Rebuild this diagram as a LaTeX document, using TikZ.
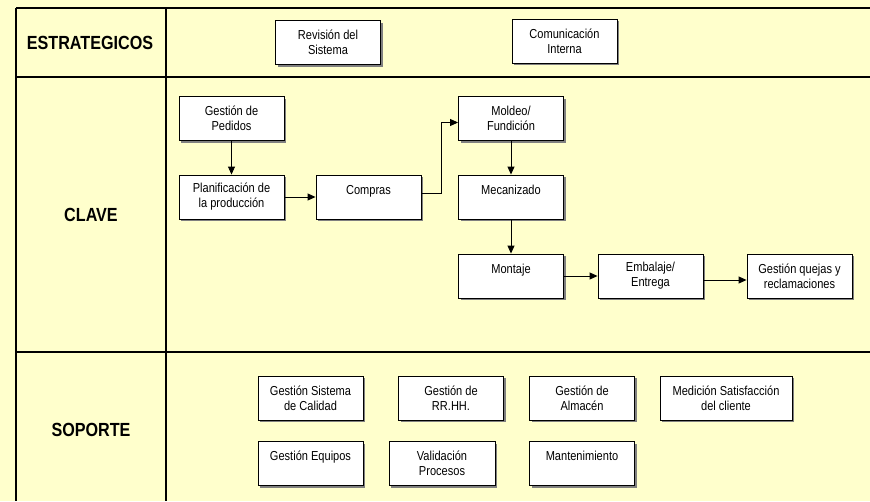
\documentclass[tikz,border=0pt]{standalone}
\usepackage{fontspec}
\setmainfont{Liberation Sans}[FakeStretch=0.85]
\definecolor{MapBack}{HTML}{FFFFCC}
\definecolor{MapBlack}{HTML}{000000}
\definecolor{MapWhite}{HTML}{FFFFFF}
\definecolor{MapShadow}{HTML}{808080}
\usepackage{tikz}
\usetikzlibrary{arrows.meta, positioning, shadows}
\tikzset{
    box/.style={
        draw=MapBlack,
        fill=MapWhite,
        line width=0.9pt,
        minimum width=#1,
        minimum height=44pt,
        inner sep=0pt,
        text=MapBlack,
        font=\fontsize{13}{15}\selectfont,
        align=center,
        drop shadow={shadow xshift=2pt, shadow yshift=-2pt, fill=MapShadow, opacity=1}
    },
    box/.default=105pt,
    rowlabel/.style={
        text=MapBlack,
        font=\fontsize{19}{21}\selectfont\bfseries,
        inner sep=0pt
    },
    grid/.style={
        line width=1.1pt,
        MapBlack
    },
    arrow/.style={
        -{Triangle[length=8pt,width=7pt]},
        line width=0.9pt,
        MapBlack
    }
}
\begin{document}
\begin{tikzpicture}[x=1pt, y=-1pt]
    \fill[MapBack] (0,0) rectangle (870,501);
    \useasboundingbox (0,0) rectangle (870,501);

    % table
    \draw[grid] (16,8) -- (870,8);
    \draw[grid] (16,77) -- (870,77);
    \draw[grid] (16,352) -- (870,352);
    \draw[grid] (16,8) -- (16,501);
    \draw[grid] (166,8) -- (166,501);

    \node[rowlabel] (estr) at (90,43) {ESTRATEGICOS};
    \node[rowlabel] (clave) at (91,215) {CLAVE};
    \node[rowlabel] (sop) at (91,430) {SOPORTE};

    % estrategicos
    \node[box] (rev) at (328,42.5) {Revisión del\\Sistema};
    \node[box] (com) at (564.5,41) {Comunicación\\Interna};

    % clave
    \node[box] (ped) at (231.5,118.5) {Gestión de\\Pedidos};
    \node[box] (pla) at (231.5,197) {Planificación de\\la producción};
    \node[box] (comp) at (368.5,197) {Compras\\~};
    \node[box] (mol) at (511,118.5) {Moldeo/\\Fundición};
    \node[box] (mec) at (511,197) {Mecanizado\\~};
    \node[box] (mon) at (511,276) {Montaje\\~};
    \node[box] (emb) at (650.5,276) {Embalaje/\\Entrega};
    \node[box] (que) at (799.5,276) {Gestión quejas y\\reclamaciones};

    \draw[arrow] (ped) -- (pla);
    \draw[arrow] (pla) -- (comp);
    \draw[arrow] ([yshift=4pt]comp.east) -- ++(20,0) |- ([yshift=-4pt]mol.west);
    \draw[arrow] (mol) -- (mec);
    \draw[arrow] (mec) -- (mon);
    \draw[arrow] (mon) -- (emb);
    \draw[arrow] ([yshift=-4pt]emb.east) -- ([yshift=-4pt]que.west);

    % soporte
    \node[box] (gsc) at (310.5,398) {Gestión Sistema\\de Calidad};
    \node[box] (rrhh) at (451,398) {Gestión de\\RR.HH.};
    \node[box] (alm) at (582,398) {Gestión de\\Almacén};
    \node[box=132pt] (med) at (726,398) {Medición Satisfacción\\del cliente};
    \node[box] (equ) at (310.5,463.5) {Gestión Equipos\\~};
    \node[box=106pt] (val) at (442,463.5) {Validación\\Procesos};
    \node[box] (man) at (582,463.5) {Mantenimiento\\~};
\end{tikzpicture}
\end{document}
